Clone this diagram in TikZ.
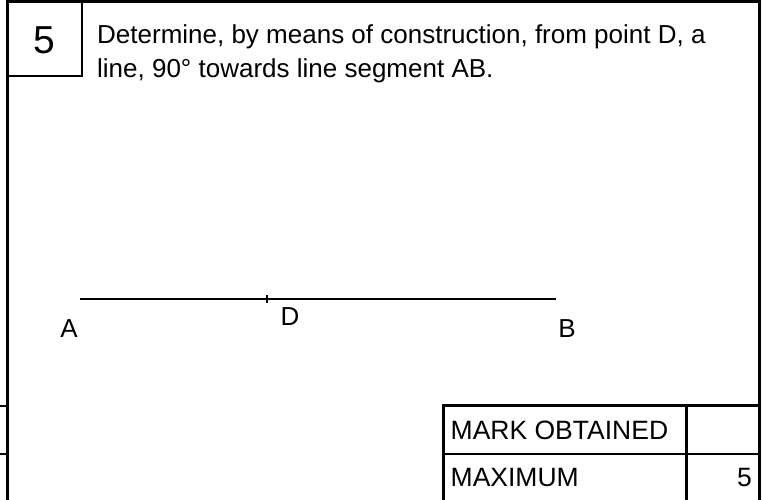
\documentclass[tikz,border=0pt]{standalone}
\usepackage{fontspec}
\setmainfont{Liberation Sans}
\begin{document}
\begin{tikzpicture}[x=1pt,y=-1pt,
  frame/.style={line width=2.8pt,line cap=rect},
  segline/.style={line width=2.8pt},
  txt/.style={inner sep=0pt,font=\fontsize{26}{30}\selectfont},
  bigtxt/.style={inner sep=0pt,font=\fontsize{39}{45}\selectfont},
  tabtxt/.style={inner sep=0pt,font=\fontsize{26.5}{30}\selectfont}]
\useasboundingbox (0,0) rectangle (763,499);
% outer frame
\coordinate (tl) at (7.5,1.5);
\coordinate (tr) at (759.5,1.5);
\coordinate (bl) at (7.5,499);
\coordinate (br) at (759.5,499);
\draw[frame] (bl) -- (tl) -- (tr) -- (br);
% number box
\coordinate (nbr) at (82,76);
\draw[frame] (tl) rectangle (nbr);
\node[bigtxt,anchor=base] (num) at (44.5,53.5) {5};
% left stubs
\coordinate (s1a) at (0,406); \coordinate (s1b) at (7.5,406);
\coordinate (s2a) at (0,454); \coordinate (s2b) at (7.5,454);
\draw[frame,line cap=butt] (s1a) -- (s1b);
\draw[frame,line cap=butt] (s2a) -- (s2b);
% question text
\node[txt,anchor=base west] (q1) at (97,43.5) {Determine, by means of construction, from point D, a};
\node[txt,anchor=base west] (q2) at (97,77) {line, 90° towards line segment AB.};
% segment AB
\coordinate (pA) at (80,299);
\coordinate (pB) at (556,299);
\coordinate (t1) at (267,295);
\coordinate (t2) at (267,303);
\draw[segline] (pA) -- (pB);
\draw[line width=2.2pt] (t1) -- (t2);
\node[txt,anchor=base] (lA) at (69,337) {A};
\node[txt,anchor=base] (lD) at (290,325) {D};
\node[txt,anchor=base] (lB) at (567,337) {B};
% mark table
\coordinate (m1) at (443.5,499);
\coordinate (m2) at (443.5,405.5);
\coordinate (m3) at (759.5,405.5);
\coordinate (r1) at (443.5,454);
\coordinate (r2) at (759.5,454);
\coordinate (c1) at (686.5,405.5);
\coordinate (c2) at (686.5,499);
\draw[frame] (m1) -- (m2) -- (m3);
\draw[frame] (r1) -- (r2);
\draw[frame] (c1) -- (c2);
\node[tabtxt,anchor=base west] (mo) at (450.5,439.5) {MARK OBTAINED};
\node[tabtxt,anchor=base west] (mx) at (450.5,486.5) {MAXIMUM};
\node[tabtxt,anchor=base east] (mv) at (752,486.5) {5};
\end{tikzpicture}
\end{document}
